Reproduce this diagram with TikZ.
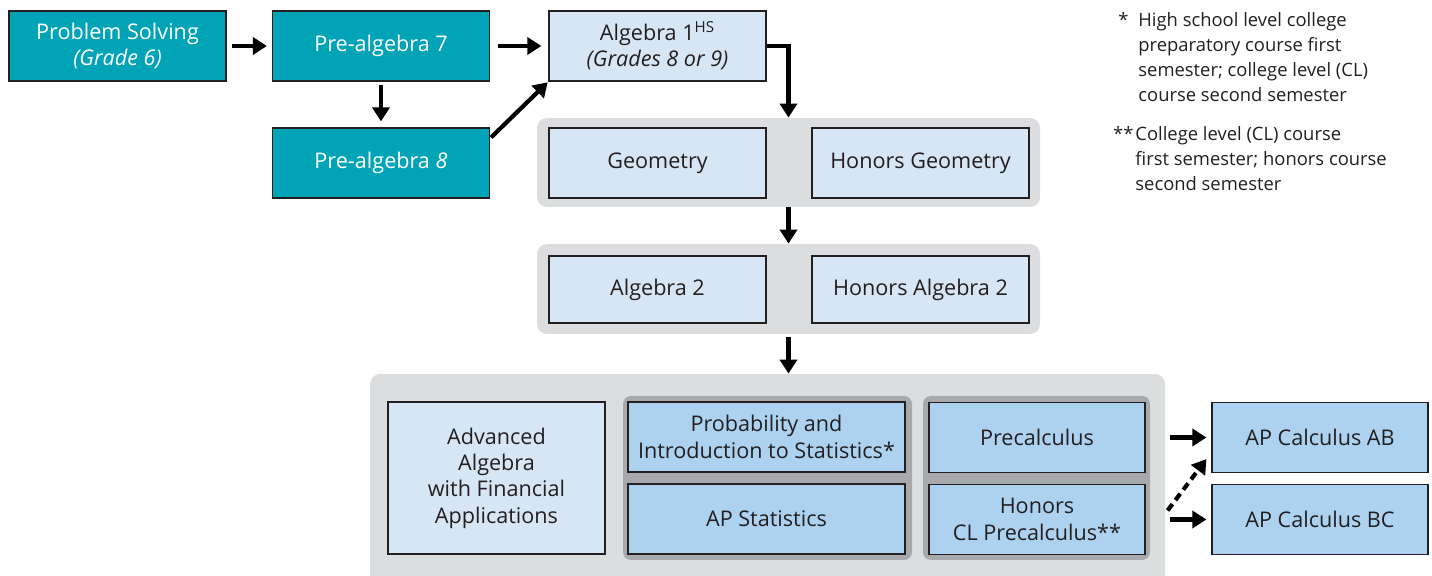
\documentclass[tikz,border=0pt]{standalone}
\usepackage{fontspec}
\setmainfont{Open Sans}
\usetikzlibrary{arrows.meta,calc}
\definecolor{tealbox}{HTML}{00A4B6}
\definecolor{paleblue}{HTML}{D7E6F5}
\definecolor{midblue}{HTML}{ADD2EF}
\definecolor{panelgray}{HTML}{DCDDDF}
\definecolor{darkpanel}{HTML}{A7A9AC}
\definecolor{inkgray}{HTML}{231F20}
\begin{document}
\begin{tikzpicture}[x=0.5pt,y=-0.5pt,
  course/.style={draw=inkgray,line width=0.6pt,inner sep=1pt,align=center,text=inkgray,font=\fontsize{10.8}{13.2}\selectfont,minimum height=35pt,minimum width=108.5pt},
  early/.style={course,fill=tealbox,text=white},
  pale/.style={course,fill=paleblue},
  calcbox/.style={course,fill=midblue},
  panel/.style={fill=panelgray,rounded corners=5pt,inner sep=0pt},
  subpanel/.style={fill=darkpanel,rounded corners=4pt,inner sep=0pt},
  arr/.style={line width=2.1pt,-{Triangle[length=7pt,width=8.5pt]}},
  note/.style={align=left,anchor=north west,inner sep=0pt,text=inkgray,font=\fontsize{9.2}{12.5}\selectfont}]
	\useasboundingbox (0,0) rectangle (1432,576);
	\clip (0,0) rectangle (1432,576);
	\node[early] (ps) at (117.5,46) {Problem Solving\\\textit{(Grade 6)}};
	\node[early] (pa7) at (381,46) {Pre-algebra 7};
	\node[early] (pa8) at (381,163) {Pre-algebra \textit{8}};
	\node[pale] (alg1) at (657.5,46) {Algebra 1\textsuperscript{HS}\\\textit{(Grades 8 or 9)}};
	\node[panel,minimum width=251.5pt,minimum height=44.5pt] (geopanel) at (788.5,162.5) {};
	\node[pale] (geo) at (657.5,163) {Geometry};
	\node[pale] (hgeo) at (920.5,163) {Honors Geometry};
	\node[panel,minimum width=251.5pt,minimum height=45pt] (alg2panel) at (788.5,289) {};
	\node[pale,minimum height=33.5pt] (alg2) at (657.5,289.5) {Algebra 2};
	\node[pale,minimum height=33.5pt] (halg2) at (920.5,289.5) {Honors Algebra 2};
	\node[panel,minimum width=397.5pt,minimum height=113pt] (bigpanel) at (767.5,487) {};
	\node[pale,minimum height=76pt] (adv) at (496.5,478) {Advanced\\Algebra\\with Financial\\Applications};
	\node[subpanel,minimum width=144.5pt,minimum height=82pt] (statpanel) at (767.5,478) {};
	\node[calcbox,minimum width=138.5pt] (prob) at (766.5,437) {Probability and\\Introduction to Statistics*};
	\node[calcbox,minimum width=138.5pt] (apst) at (766.5,519) {AP Statistics};
	\node[subpanel,minimum width=113.5pt,minimum height=82pt] (prepanel) at (1036.5,478) {};
	\node[calcbox,minimum width=108pt] (pre) at (1037,437.5) {Precalculus};
	\node[calcbox,minimum width=108pt] (hcl) at (1037,519.5) {Honors\\CL Precalculus**};
	\node[calcbox,minimum width=108pt] (ab) at (1320,437.5) {AP Calculus AB};
	\node[calcbox,minimum width=108pt] (bc) at (1320,519.5) {AP Calculus BC};
	\node[note] (note1) at (1138,12) {\llap{*\hspace{5pt}}High school level college\\preparatory course first\\semester; college level (CL)\\course second semester};
	\node[note] (note2) at (1135,126) {\llap{**\hspace{1pt}}College level (CL) course\\first semester; honors course\\second semester};
	\draw[arr,shorten <=2.5pt,shorten >=2.5pt] (ps) -- (pa7);
	\draw[arr,shorten <=4pt,shorten >=3.5pt] (pa7) -- (alg1);
	\draw[arr,shorten <=1.5pt,shorten >=3pt] (pa7) -- (pa8);
	\draw[arr,shorten >=0.5pt] ($(pa8.north east)+(1,10)$) -- (alg1.south west);
	\draw[arr] (alg1.east) -| (geopanel.north);
	\draw[arr] (geopanel.south) -- (alg2panel.north);
	\draw[arr,shorten <=1.5pt] (alg2panel.south) -- (alg2panel.south |- bigpanel.north);
	\draw[arr,shorten <=12pt,shorten >=2.5pt] (pre) -- (ab);
	\draw[arr,shorten <=12pt,shorten >=2.5pt] (hcl) -- (bc);
	\draw[arr,dash pattern=on 4pt off 2.5pt] ($(hcl.east)+(22,-9)$) -- ($(ab.south west)+(-5,-14)$);
\end{tikzpicture}
\end{document}
